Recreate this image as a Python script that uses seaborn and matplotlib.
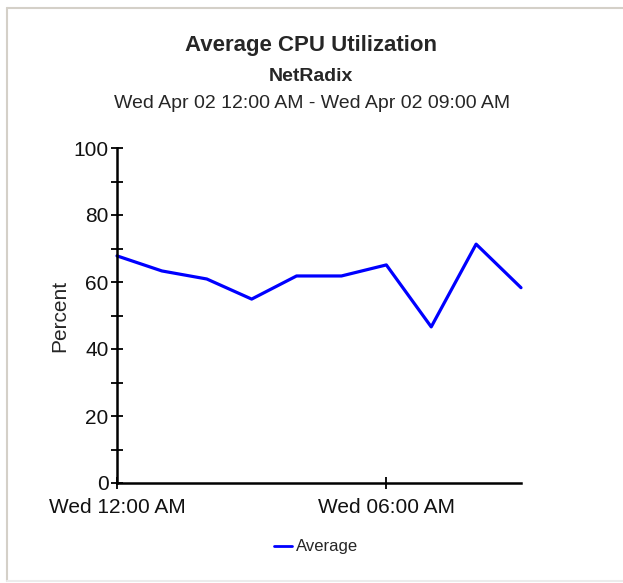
import matplotlib
matplotlib.use("Agg")
import matplotlib.pyplot as plt
import seaborn as sns
import pandas as pd
from matplotlib.ticker import MultipleLocator
from matplotlib.lines import Line2D

# data (hours after midnight, percent)
hours = [0, 1, 2, 3, 4, 5, 6, 7, 8, 9]
cpu_avg = [67.8, 63.3, 60.9, 54.9, 61.8, 61.8, 65.1, 46.6, 71.3, 58.3]
tick_hours = [0, 6]
tick_labels = ["Wed 12:00 AM", "Wed 06:00 AM"]

df = pd.DataFrame({"hour": hours, "Average": cpu_avg})

sns.set_style("white")
plt.rcParams["font.family"] = ["Liberation Sans", "DejaVu Sans"]

W, H = 623, 583
fig = plt.figure(figsize=(W / 100, H / 100), dpi=100)

# window border of the screenshot
fig.add_artist(Line2D([7 / W, 1], [1 - 7.5 / H, 1 - 7.5 / H], color="#d4d0c8", lw=1.5))
fig.add_artist(Line2D([7 / W, 7 / W], [1 - 7.5 / H, 2 / H], color="#d4d0c8", lw=1.5))
fig.add_artist(Line2D([7 / W, 1], [2 / H, 2 / H], color="#ececec", lw=1.5))

ax = fig.add_axes([117 / W, 1 - 483 / H, (521 - 117) / W, (483 - 148) / H])
sns.lineplot(data=df, x="hour", y="Average", ax=ax, color="#0000ff", lw=2.3,
             legend=False, clip_on=False)

ax.set_xlim(0, 9)
ax.set_ylim(0, 100)
ax.yaxis.set_major_locator(MultipleLocator(20))
ax.yaxis.set_minor_locator(MultipleLocator(10))
ax.set_xticks(tick_hours)
ax.set_xticklabels(tick_labels)
ax.tick_params(axis="both", which="both", direction="inout", length=8, width=1.3,
               color="black", labelsize=15, labelcolor="#111111",
               left=True, bottom=True)
ax.tick_params(axis="y", pad=2)
ax.tick_params(axis="x", pad=7)
sns.despine(ax=ax)
for side in ["left", "bottom"]:
    ax.spines[side].set_color("black")
    ax.spines[side].set_linewidth(1.8)
ax.set_xlabel("")
ax.set_ylabel("Percent", fontsize=15, labelpad=3)

fig.text(311 / W, 1 - 46 / H, "Average CPU Utilization", ha="center", va="center",
         fontsize=16, fontweight="bold")
fig.text(311 / W, 1 - 76 / H, "NetRadix", ha="center", va="center",
         fontsize=14, fontweight="bold")
fig.text(312 / W, 1 - 104 / H, "Wed Apr 02 12:00 AM - Wed Apr 02 09:00 AM",
         ha="center", va="center", fontsize=14)

# legend under the plot
fig.legend(handles=[Line2D([], [], color="#0000ff", lw=2)], labels=["Average"],
           loc="center", bbox_to_anchor=(316 / W, 1 - 547 / H), frameon=False,
           fontsize=12, handlelength=1.1, handletextpad=0.25)

fig.savefig("out.png", dpi=100)
